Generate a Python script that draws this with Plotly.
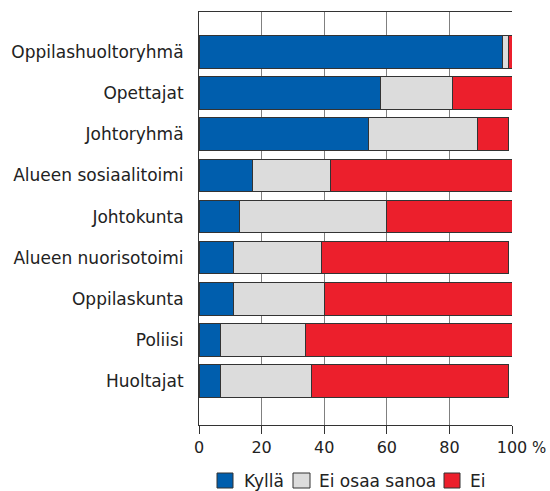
import plotly.graph_objects as go

categories = ["Oppilashuoltoryhmä", "Opettajat", "Johtoryhmä", "Alueen sosiaalitoimi",
              "Johtokunta", "Alueen nuorisotoimi", "Oppilaskunta", "Poliisi", "Huoltajat"]
kylla = [97, 58, 54, 17, 13, 11, 11, 7, 7]
ei_osaa = [2, 23, 35, 25, 47, 28, 29, 27, 29]
ei = [1, 19, 10, 58, 40, 60, 60, 66, 63]
series_names = ["Kyllä", "Ei osaa sanoa", "Ei"]
colors = ["#005EAD", "#DCDCDC", "#EC1F2C"]
x_ticks = [0, 20, 40, 60, 80, 100]

W, H = 550, 491
L, R, T, B = 199, 38, 12, 66
PW, PH = W - L - R, H - T - B

def px(xp):
    return (xp - L) / PW

def py(yp):
    return (H - B - yp) / PH

fig = go.Figure()
for name, vals, col in zip(series_names, [kylla, ei_osaa, ei], colors):
    fig.add_trace(go.Bar(
        y=categories, x=vals, name=name, orientation="h",
        marker=dict(color=col, line=dict(color="#333333", width=1)),
        showlegend=False,
    ))

fig.update_layout(
    barmode="stack",
    bargap=0.21,
    width=W, height=H,
    margin=dict(l=L, r=R, t=T, b=B, autoexpand=False),
    paper_bgcolor="white", plot_bgcolor="white",
    font=dict(family="DejaVu Sans", size=16, color="#222222"),
    xaxis=dict(range=[0, 100], tickvals=x_ticks, ticktext=[str(v) for v in x_ticks],
               showgrid=True, gridcolor="#808080", gridwidth=1,
               showline=True, linecolor="#333333", linewidth=1, mirror=True,
               ticks="outside", ticklen=8, tickcolor="#333333", tickwidth=1,
               zeroline=False, tickfont=dict(size=16), automargin=False),
    yaxis=dict(categoryorder="array", categoryarray=categories,
               range=[9.065, -0.97], showline=True, linecolor="#333333", linewidth=1,
               showgrid=False, ticks="", ticklabelstandoff=11,
               tickfont=dict(size=17), automargin=False),
)
fig.add_annotation(text="%", x=px(530), xref="paper", y=py(448), yref="paper",
                   xanchor="left", yanchor="middle",
                   showarrow=False, font=dict(size=15, color="#222222"))

# manual legend
legend_sq = [(217, 233), (293, 310), (444, 460)]
legend_tx = [242, 317, 468]
for (x0, x1), tx, name, col in zip(legend_sq, legend_tx, series_names, colors):
    fig.add_shape(type="rect", xref="paper", yref="paper",
                  x0=px(x0), x1=px(x1), y0=py(488), y1=py(473),
                  fillcolor=col, line=dict(color="#333333", width=1))
    fig.add_annotation(text=name, x=px(tx), xref="paper", y=py(481), yref="paper",
                       xanchor="left", yanchor="middle", showarrow=False,
                       font=dict(size=17, color="#222222"))

fig.write_html("out.html", config={"displayModeBar": False},
               post_script="document.body.style.margin='0';document.body.style.overflow='hidden';")
